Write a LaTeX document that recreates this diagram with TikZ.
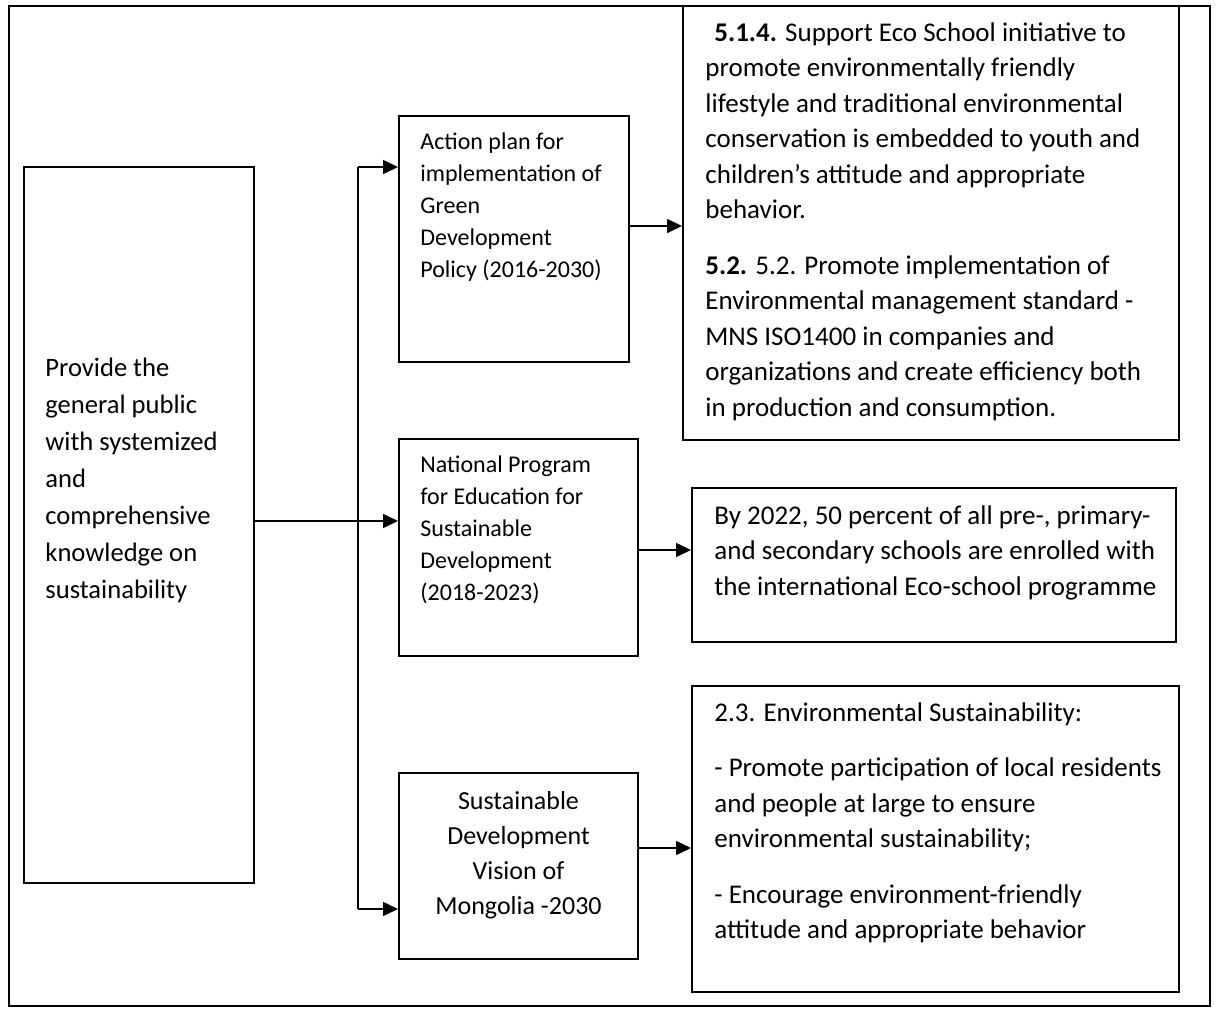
\documentclass[tikz,border=0pt]{standalone}
\usepackage{fontspec}
\setmainfont{Carlito}
\usetikzlibrary{arrows.meta}

\tikzset{
	box/.style={draw, line width=1pt, inner sep=0pt},
	txt/.style={anchor=north west, inner sep=0pt, align=left},
	conn/.style={line width=0.8pt},
	arr/.style={conn, -{Triangle[length=7.5pt,width=7pt]}},
}

\begin{document}
\begin{tikzpicture}[x=0.5pt, y=-0.5pt]
			%%%%% START %%%%%
			\useasboundingbox (0,0) rectangle (1217,1008);
			\draw[line width=1.2pt] (9,6) rectangle (1210,1006);
			
			\node[box, minimum width=115pt, minimum height=358pt] (public) at (139,525) {};
			\node[box, minimum width=115pt, minimum height=123pt] (action) at (514,239) {};
			\node[box, minimum width=119.5pt, minimum height=108.5pt] (esd) at (518.5,547.5) {};
			\node[box, minimum width=119.5pt, minimum height=93pt] (vision) at (518.5,866) {};
			\node[box, minimum width=248pt, minimum height=217pt] (ecoschool) at (931,223) {};
			\node[box, minimum width=242pt, minimum height=77pt] (enrol) at (934,565) {};
			\node[box, minimum width=243.5pt, minimum height=153pt] (envsust) at (935.5,839) {};
			
			\node[txt, font=\fontsize{13.3}{18.5}\selectfont] (publictxt) at (45,358) {Provide the\\general public\\with systemized\\and\\comprehensive\\knowledge on\\sustainability};
			\node[txt, font=\fontsize{12}{16}\selectfont] (actiontxt) at (420,132.5) {Action plan for\\implementation of\\Green\\Development\\Policy (2016-2030)};
			\node[txt, font=\fontsize{12}{16}\selectfont] (esdtxt) at (420,455.5) {National Program\\for Education for\\Sustainable\\Development\\(2018-2023)};
			\node[txt, anchor=north, align=center, font=\fontsize{13}{17.5}\selectfont] (visiontxt) at (518.5,791) {Sustainable\\Development\\Vision of\\Mongolia -2030};
			\node[txt, font=\fontsize{13.5}{17.75}\selectfont] (ecoschooltxt) at (705,22) {\hspace*{4.5pt}\textbf{5.1.4.} Support Eco School initiative to\\promote environmentally friendly\\lifestyle and traditional environmental\\conservation is embedded to youth and\\children’s attitude and appropriate\\behavior.\\[10pt]\textbf{5.2.} 5.2. Promote implementation of\\Environmental management standard -\\MNS ISO1400 in companies and\\organizations and create efficiency both\\in production and consumption.};
			\node[txt, font=\fontsize{13.5}{17.75}\selectfont] (enroltxt) at (714,505) {By 2022, 50 percent of all pre-, primary-\\and secondary schools are enrolled with\\the international Eco-school programme};
			\node[txt, font=\fontsize{13.5}{17.75}\selectfont] (envsusttxt) at (714,702) {2.3. Environmental Sustainability:\\[10pt]- Promote participation of local residents\\and people at large to ensure\\environmental sustainability;\\[10pt]- Encourage environment-friendly\\attitude and appropriate behavior};
			
			% bus on the left
			\coordinate (bustop) at (358,167);
			\coordinate (busbot) at (358,909);
			\coordinate (split) at (358,521);
			\draw[conn] (bustop) -- (busbot);
			\draw[arr] (bustop) -- (action.west |- bustop);
			\draw[arr] (busbot) -- (vision.west |- busbot);
			\draw[arr] (public.east |- split) -- (esd.west |- split);
			
			\draw[arr] ([yshift=6.5pt]action.east) -- ([yshift=6.5pt]action.east -| ecoschool.west);
			\draw[arr] ([yshift=-1.25pt]esd.east) -- ([yshift=-1.25pt]esd.east -| enrol.west);
			\draw[arr] ([yshift=9pt]vision.east) -- ([yshift=9pt]vision.east -| envsust.west);
			%%%%% END %%%%%
\end{tikzpicture}
\end{document}
